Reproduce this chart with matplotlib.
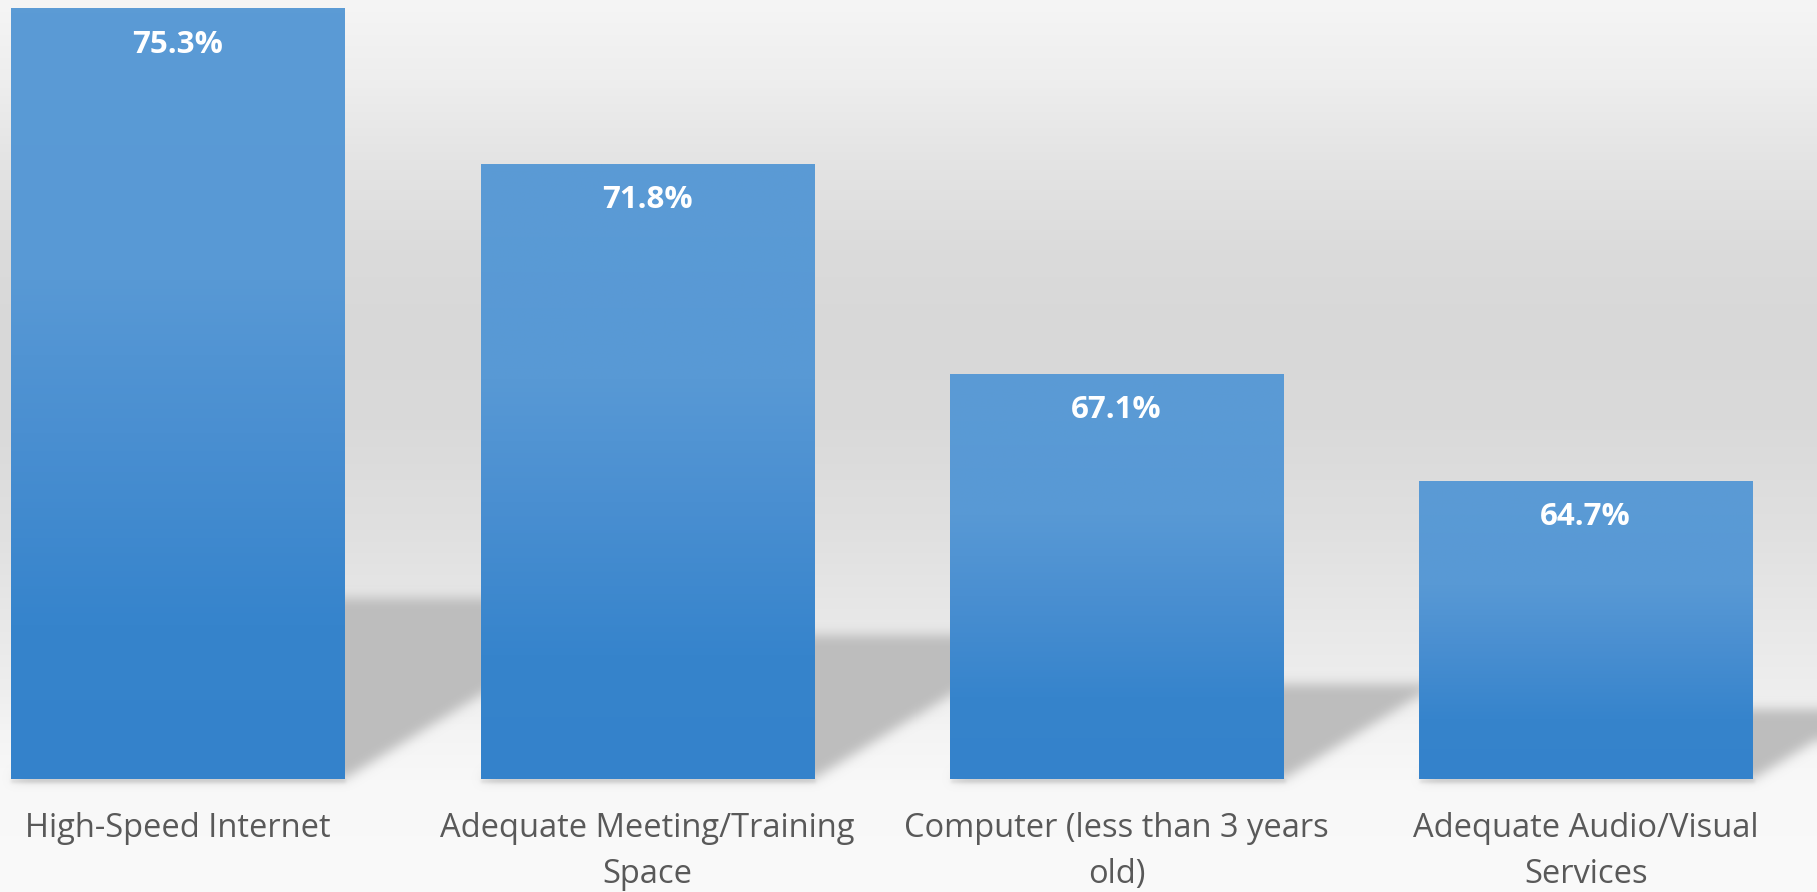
import numpy as np
import matplotlib
matplotlib.use("Agg")
import matplotlib.pyplot as plt
from matplotlib.path import Path
from matplotlib.colors import LinearSegmentedColormap

# ---- data -------------------------------------------------------------
categories = [
    "High-Speed Internet",
    "Adequate Meeting/Training\nSpace",
    "Computer (less than 3 years\nold)",
    "Adequate Audio/Visual\nServices",
]
values = [75.3, 71.8, 67.1, 64.7]
value_labels = [f"{v:.1f}%" for v in values]

# ---- layout / style ---------------------------------------------------
W, H, DPI = 1817, 892, 100
BASE = 58.0
TOP = 75.49
BAR_W = 0.71
XLIM = (-0.379, 3.493)
LABEL_FONT = "Open Sans"

fig = plt.figure(figsize=(W / DPI, H / DPI), dpi=DPI)

# background: soft grey wall gradient fading to a light floor
bg = fig.add_axes([0, 0, 1, 1], zorder=0)
bg.set_axis_off()
stops_y = [0, 80, 160, 250, 330, 430, 530, 620, 690, 730, 780, 892]
stops_v = [245, 238, 228, 219, 216, 218, 224, 232, 238, 244, 248, 250]
col = np.interp(np.arange(H), stops_y, stops_v) / 255.0
grad = np.repeat(col[:, None], 2, axis=1)
bg.imshow(np.dstack([grad, grad, grad]), aspect="auto", extent=(0, 1, 0, 1),
          origin="upper", interpolation="bilinear")
bg.set_xlim(0, 1)
bg.set_ylim(0, 1)

ax = fig.add_axes([0, (H - 779) / H, 1, 779 / H], zorder=1)
ax.patch.set_alpha(0)
ax.set_xlim(*XLIM)
ax.set_ylim(BASE, TOP)
ax.set_autoscale_on(False)
for s in ax.spines.values():
    s.set_visible(False)
ax.set_yticks([])

x = np.arange(len(values))
heights = [v - BASE for v in values]
bars = ax.bar(x, heights, bottom=BASE, width=BAR_W, color="none",
              edgecolor="none", zorder=3)


# ---- perspective drop shadows (rendered in pixel space, then blurred) --
def box_blur(a, r, axis):
    pad = [(0, 0), (0, 0)]
    pad[axis] = (r + 1, r)
    p = np.pad(a, pad, mode="edge")
    c = np.cumsum(p, axis=axis)
    n = a.shape[axis]
    hi = np.take(c, np.arange(2 * r + 1, 2 * r + 1 + n), axis=axis)
    lo = np.take(c, np.arange(0, n), axis=axis)
    return (hi - lo) / (2 * r + 1)


def gblur(a, r, passes=3):
    for _ in range(passes):
        a = box_blur(a, r, 0)
        a = box_blur(a, r, 1)
    return a


px, py = np.meshgrid(np.arange(W) + 0.5, np.arange(H) + 0.5)
pts = np.column_stack([px.ravel(), py.ravel()])
shadow = np.zeros(H * W)
under = np.zeros(H * W)
to_px = ax.transData
for xi, v in zip(x, values):
    (x0, y0), (x1, y1) = to_px.transform([(xi - BAR_W / 2, BASE),
                                          (xi + BAR_W / 2, v)])
    hpx = y1 - y0
    sh = 0.235 * hpx
    dx = 0.38 * hpx
    poly = Path([(x0, y0), (x1, y0), (x1 + dx, y0 + sh), (x0 + dx, y0 + sh),
                 (x0, y0)])
    shadow = np.maximum(shadow, poly.contains_points(pts))
    rect = Path([(x0, y0 - 4), (x1 + 2, y0 - 4), (x1 + 2, y0), (x0, y0),
                 (x0, y0 - 4)])
    under = np.maximum(under, rect.contains_points(pts))

# display coords have origin bottom-left; image rows go top-down
shadow = shadow.reshape(H, W)[::-1]
under = under.reshape(H, W)[::-1]
alpha = np.clip(gblur(shadow.astype(float), 5) + 0.35 * gblur(under.astype(float), 1), 0, 1)
sh_rgba = np.zeros((H, W, 4))
sh_rgba[..., :3] = 0.745
sh_rgba[..., 3] = alpha
bg.imshow(sh_rgba, aspect="auto", extent=(0, 1, 0, 1), origin="upper",
          interpolation="nearest", zorder=2)
bg.set_xlim(0, 1)
bg.set_ylim(0, 1)

# ---- gradient-filled bars ---------------------------------------------
bar_cmap = LinearSegmentedColormap.from_list(
    "barfill",
    [(0.0, "#3482cb"), (0.2, "#3684cc"), (0.45, "#4a8fd1"),
     (0.65, "#5899d5"), (1.0, "#5b9bd5")],
)
ramp = np.linspace(0, 1, 256)[:, None]
for rect, xi, v in zip(bars, x, values):
    im = ax.imshow(ramp, cmap=bar_cmap, aspect="auto", origin="lower",
                   extent=(xi - BAR_W / 2, xi + BAR_W / 2, BASE, v),
                   interpolation="bilinear", zorder=2)
    im.set_clip_path(rect)

ax.set_xlim(*XLIM)
ax.set_ylim(BASE, TOP)

# value labels inside the top of each bar
for xi, v, lbl in zip(x, values, value_labels):
    ax.annotate(lbl, (xi, v), xytext=(0, -26), textcoords="offset points",
                ha="center", va="center", color="white", fontsize=22.5,
                fontweight="bold", family=LABEL_FONT, zorder=5)

# category labels
ax.set_xticks(x)
ax.set_xticklabels(categories, fontsize=23.5, color="#595959",
                   family=LABEL_FONT, linespacing=1.5)
ax.tick_params(axis="x", length=0, pad=24)

fig.savefig("out.png", dpi=DPI)
